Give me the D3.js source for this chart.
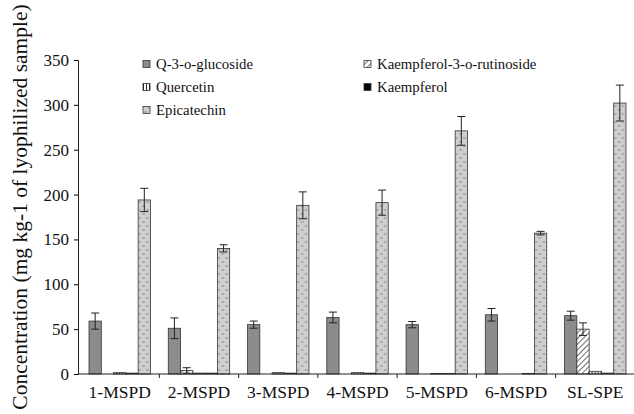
<!DOCTYPE html>
<html>
<head>
<meta charset="utf-8">
<script src="https://cdn.jsdelivr.net/npm/d3@7"></script>
<style>
  body { margin: 0; background: #fff; }
</style>
</head>
<body>
<svg id="chart" width="634" height="414"></svg>
<script>
// samples on the x axis
const samples = ["1-MSPD", "2-MSPD", "3-MSPD", "4-MSPD", "5-MSPD", "6-MSPD", "SL-SPE"];
const compounds = ["Q-3-o-glucoside", "Kaempferol-3-o-rutinoside", "Quercetin", "Kaempferol", "Epicatechin"];

// mean values per compound (mg kg-1), one per sample
const glucoside   = [59, 51, 55, 63, 55, 66, 65];
const rutinoside  = [0, 4, 0, 0, 0, 0, 50];
const quercetin   = [1.5, 1, 1.5, 1.5, 0.5, 0, 3];
const kaempferol  = [1, 1, 1, 1, 0.5, 0.5, 1];
const epicatechin = [194, 140, 188, 191, 271, 157, 302];

// error (sd) per compound
const glucosideErr   = [9, 11.5, 4, 6, 3.5, 7, 5];
const rutinosideErr  = [0, 3, 0, 0, 0, 0, 7];
const quercetinErr   = [0, 0, 0, 0, 0, 0, 0];
const kaempferolErr  = [0, 0, 0, 0, 0, 0, 0];
const epicatechinErr = [13, 4, 15, 14, 16, 2, 20];

const yTicks = [0, 50, 100, 150, 200, 250, 300, 350];

const values = [glucoside, rutinoside, quercetin, kaempferol, epicatechin];
const errors = [glucosideErr, rutinosideErr, quercetinErr, kaempferolErr, epicatechinErr];

const FONT = "Liberation Serif";

const svg = d3.select("#chart").style("font-family", FONT);
const margin = {left: 78, right: 0, top: 60, bottom: 40};
const W = 634, H = 414;

const x = d3.scaleBand().domain(samples).range([margin.left, 637]).paddingInner(0.225).paddingOuter(0.139);
const xs = d3.scaleBand().domain(compounds).range([0, x.bandwidth()]);
const y = d3.scaleLinear().domain([0, 350]).range([374, 60]);

// patterns
const defs = svg.append("defs");
const hatch = defs.append("pattern").attr("id", "hatch").attr("patternUnits", "userSpaceOnUse")
  .attr("width", 4).attr("height", 4).attr("patternTransform", "rotate(45)");
hatch.append("rect").attr("width", 4).attr("height", 4).attr("fill", "#fff");
hatch.append("line").attr("x1", 0).attr("y1", 0).attr("x2", 0).attr("y2", 4).attr("stroke", "#222").attr("stroke-width", 1.3);

const vstripe = defs.append("pattern").attr("id", "vstripe").attr("patternUnits", "userSpaceOnUse")
  .attr("width", 3).attr("height", 3);
vstripe.append("rect").attr("width", 3).attr("height", 3).attr("fill", "#fff");
vstripe.append("line").attr("x1", 0.5).attr("y1", 0).attr("x2", 0.5).attr("y2", 3).attr("stroke", "#222").attr("stroke-width", 1);

const dash = defs.append("pattern").attr("id", "dash").attr("patternUnits", "userSpaceOnUse")
  .attr("width", 8).attr("height", 8);
dash.append("rect").attr("width", 8).attr("height", 8).attr("fill", "#cfcfcf");
dash.append("line").attr("x1", 1).attr("y1", 2).attr("x2", 4).attr("y2", 2).attr("stroke", "#8a8a8a").attr("stroke-width", 1);
dash.append("line").attr("x1", 5).attr("y1", 6).attr("x2", 8).attr("y2", 6).attr("stroke", "#8a8a8a").attr("stroke-width", 1);

const fills = ["#8c8c8c", "url(#hatch)", "url(#vstripe)", "#000", "url(#dash)"];

// bars
const groups = svg.selectAll("g.group").data(samples).enter().append("g")
  .attr("class", "group").attr("transform", d => `translate(${x(d)},0)`);

groups.each(function(s, i) {
  const g = d3.select(this);
  compounds.forEach((c, k) => {
    const v = values[k][i];
    g.append("rect")
      .attr("x", xs(c)).attr("y", y(v))
      .attr("width", xs.bandwidth()).attr("height", y(0) - y(v))
      .attr("fill", fills[k]).attr("stroke", "#333").attr("stroke-width", 0.8);
    const e = errors[k][i];
    if (e > 0) {
      const cx = xs(c) + xs.bandwidth() / 2;
      g.append("line").attr("x1", cx).attr("x2", cx).attr("y1", y(v + e)).attr("y2", y(Math.max(0, v - e)))
        .attr("stroke", "#222").attr("stroke-width", 1);
      [v + e, Math.max(0, v - e)].forEach(t => {
        g.append("line").attr("x1", cx - 4).attr("x2", cx + 4).attr("y1", y(t)).attr("y2", y(t))
          .attr("stroke", "#222").attr("stroke-width", 1);
      });
    }
  });
});

// y axis
const yAxis = svg.append("g").attr("transform", `translate(${margin.left},0)`)
  .call(d3.axisLeft(y).tickValues(yTicks).tickSize(4).tickPadding(5));
yAxis.attr("font-family", null);
yAxis.select(".domain").attr("stroke", "#222");
yAxis.selectAll("text").style("font-family", FONT).style("font-size", "17px").attr("fill", "#111");

// x axis
const xAxisG = svg.append("g");
xAxisG.append("line").attr("x1", margin.left).attr("x2", W).attr("y1", y(0)).attr("y2", y(0))
  .attr("stroke", "#222").attr("stroke-width", 1.2);
const bounds = samples.map(s => x(s) - x.step() * x.paddingInner() / 2).slice(1);
xAxisG.selectAll("line.tk").data(bounds).enter().append("line")
  .attr("x1", d => d).attr("x2", d => d).attr("y1", y(0)).attr("y2", y(0) + 4).attr("stroke", "#222");
xAxisG.selectAll("text").data(samples).enter().append("text")
  .attr("x", d => x(d) + x.bandwidth() / 2).attr("y", 398)
  .attr("text-anchor", "middle").style("font-family", FONT).style("font-size", "17.5px").attr("fill", "#111").text(d => d);

// y title
svg.append("text").attr("transform", "translate(27,207) rotate(-90)")
  .attr("text-anchor", "middle").style("font-family", FONT).style("font-size", "21.5px").attr("fill", "#111")
  .text("Concentration (mg kg-1 of lyophilized sample)");

// legend
const legendPos = [[143, 64], [364, 64], [143, 87], [364, 87], [143, 110]];
const leg = svg.selectAll("g.leg").data(compounds).enter().append("g")
  .attr("class", "leg").attr("transform", (d, i) => `translate(${legendPos[i][0]},${legendPos[i][1]})`);
leg.append("rect").attr("x", 0).attr("y", -3.5).attr("width", 7).attr("height", 7)
  .attr("fill", (d, i) => fills[i]).attr("stroke", "#333").attr("stroke-width", 0.8);
leg.append("text").attr("x", 13).attr("y", 5).style("font-family", FONT).style("font-size", "14.8px").attr("fill", "#111").text(d => d);
</script>
</body>
</html>
